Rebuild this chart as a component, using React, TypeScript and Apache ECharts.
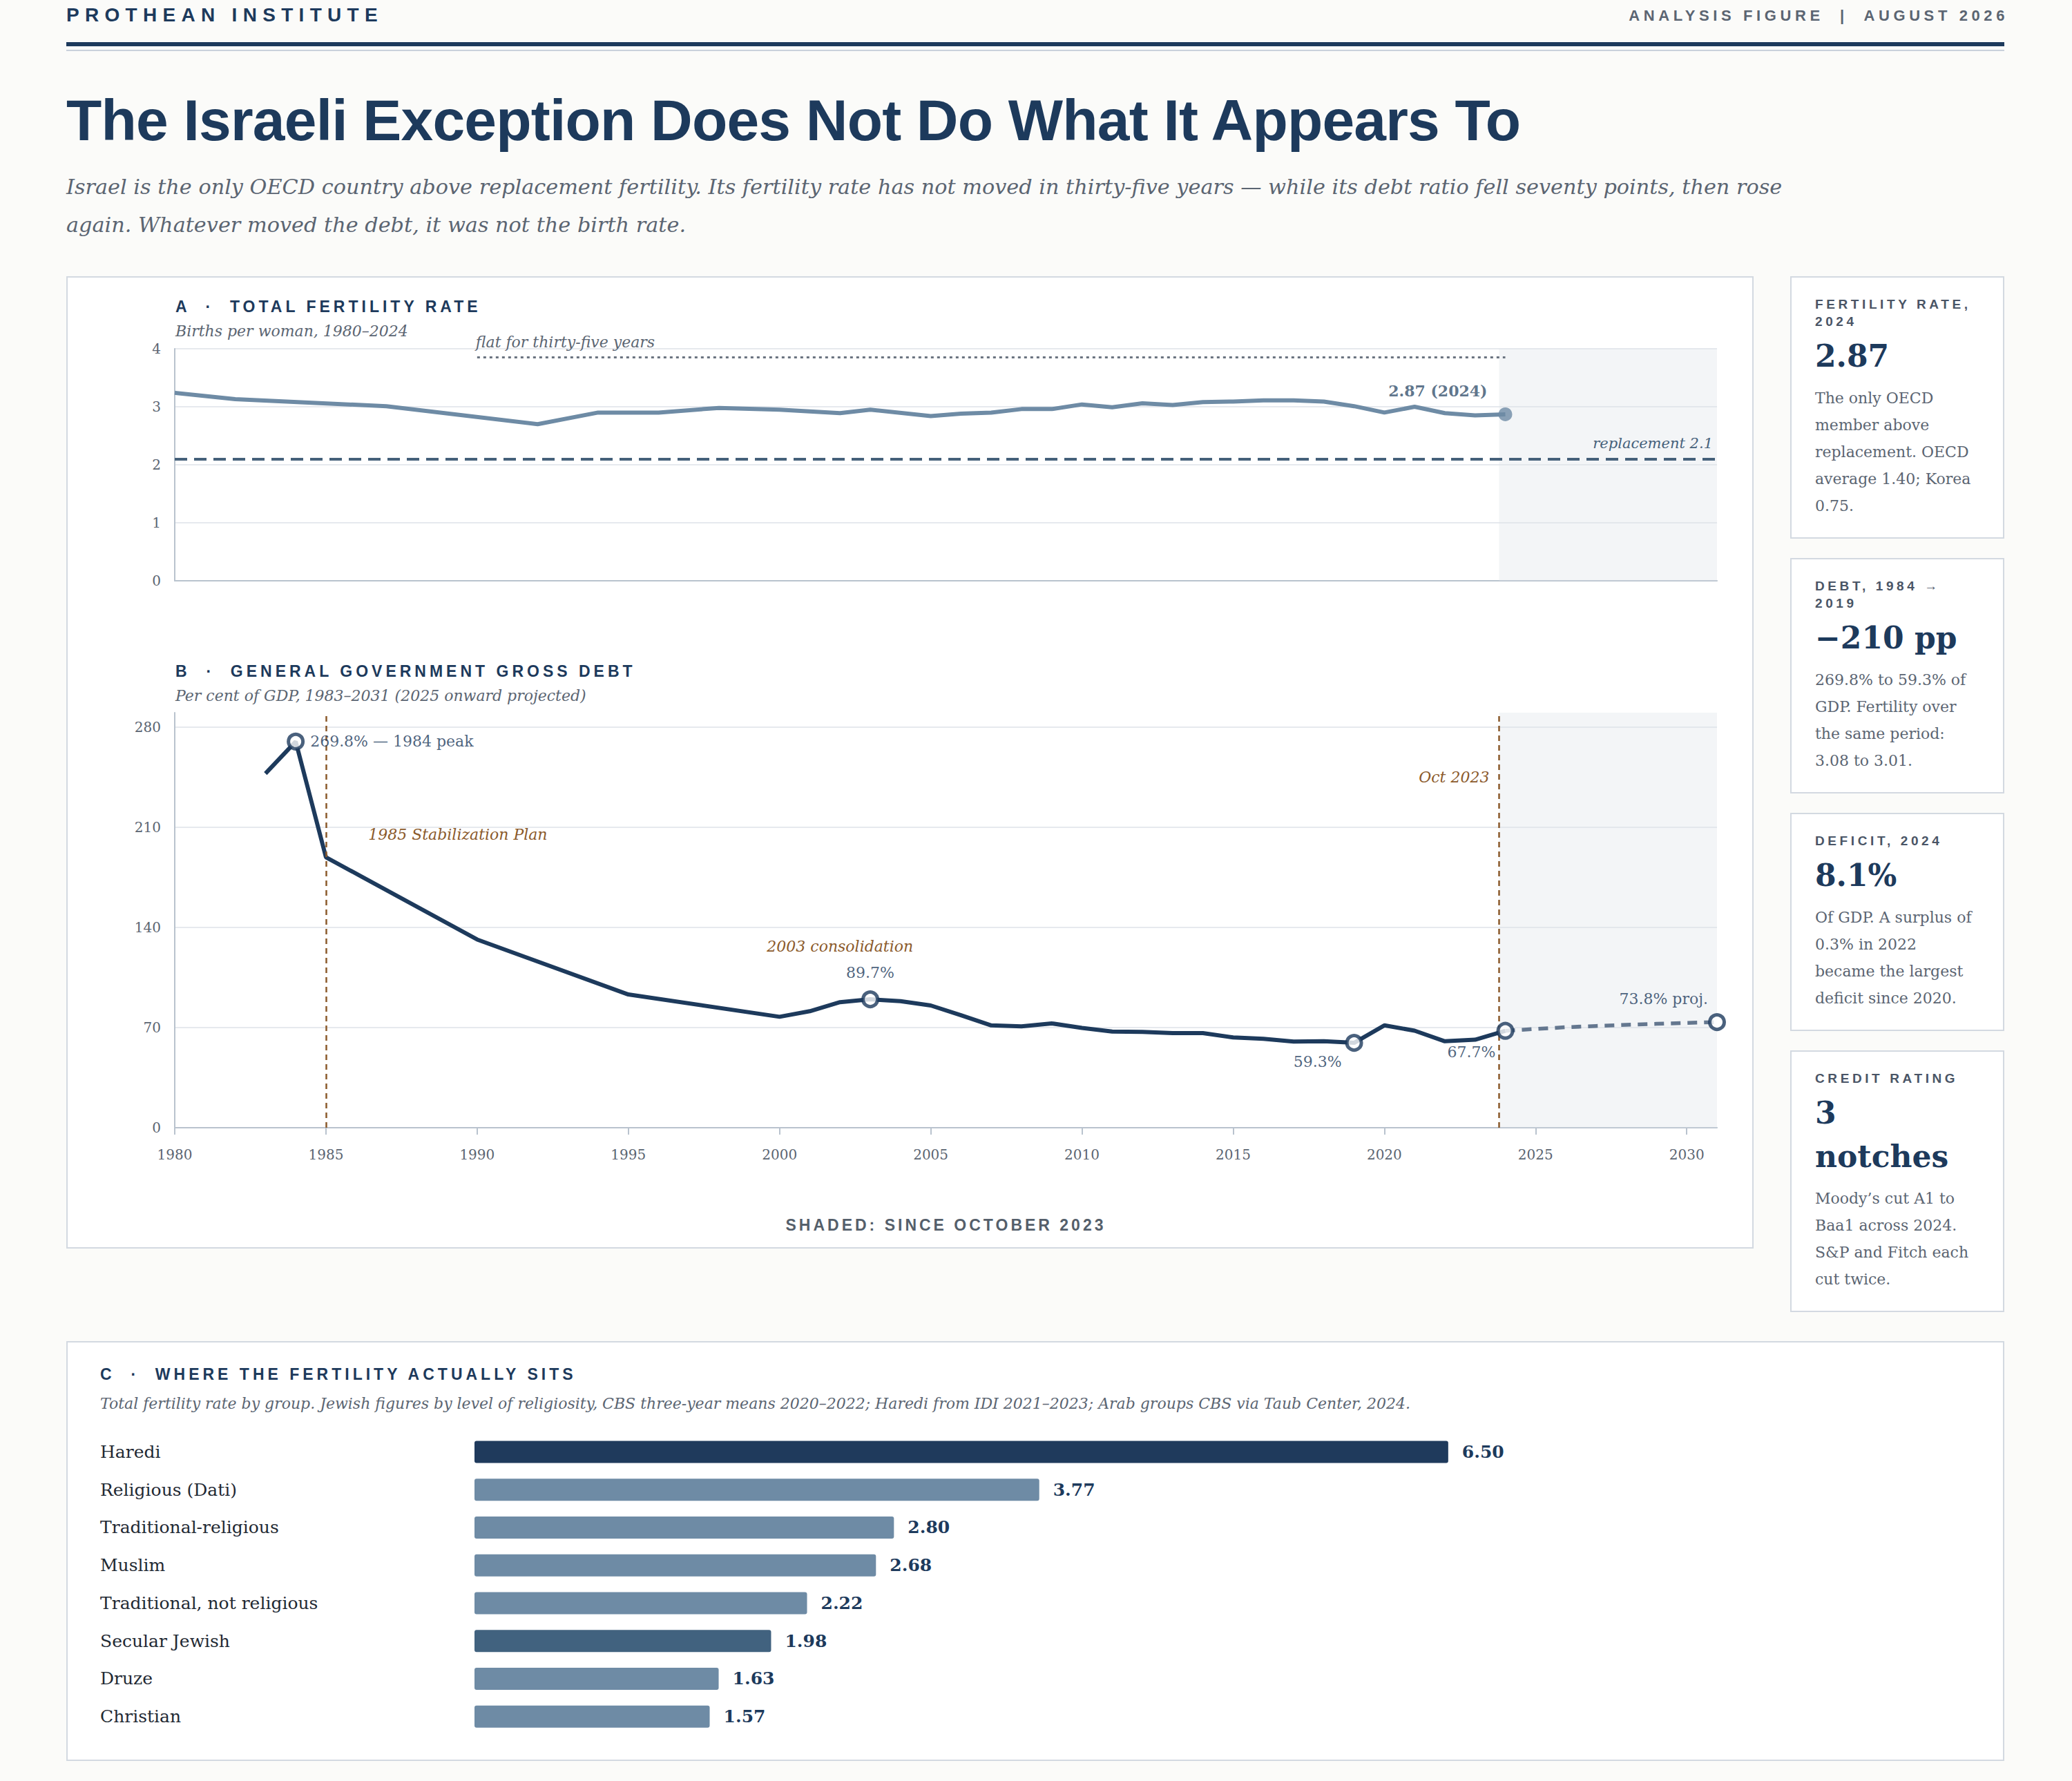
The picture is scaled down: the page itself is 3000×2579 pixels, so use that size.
import { useEffect, useRef } from "react";
import type { CSSProperties } from "react";
import * as echarts from "echarts";

const NAVY = "#1d3a5c";
const SLATE = "#6e8ba5";
const GREY = "#5b6572";
const BROWN = "#8b5a2b";
const AXIS = "#b9c3ce";
const GRID = "#e6e9ee";
const SHADE = "rgba(222,226,233,0.36)";
const SERIF = '"DejaVu Serif", serif';
const SANS = '"Liberation Sans", Arial, sans-serif';

// Panel A: total fertility rate (vertices)
const fertilityYears = [
  1980, 1982, 1987, 1992, 1994, 1996, 1998, 2000, 2002, 2003, 2005, 2006, 2007, 2008, 2009,
  2010, 2011, 2012, 2013, 2014, 2015, 2016, 2017, 2018, 2019, 2020, 2021, 2022, 2023, 2024,
];
const fertilityRates = [
  3.24, 3.13, 3.01, 2.7, 2.9, 2.9, 2.98, 2.95, 2.89, 2.95, 2.84, 2.88, 2.9, 2.96, 2.96,
  3.04, 2.99, 3.06, 3.03, 3.08, 3.09, 3.11, 3.11, 3.09, 3.01, 2.9, 3.0, 2.89, 2.85, 2.87,
];
const REPLACEMENT = 2.1;
const FLAT_FROM = 1990;
const FLAT_TO = 2024;
const FLAT_LEVEL = 3.86;

// Panel B: general government gross debt, % of GDP
const debtYears = [
  1983, 1984, 1985, 1990, 1995, 2000, 2001, 2002, 2003, 2004, 2005, 2006, 2007, 2008, 2009,
  2010, 2011, 2012, 2013, 2014, 2015, 2016, 2017, 2018, 2019, 2020, 2021, 2022, 2023, 2024,
];
const debtRatios = [
  247.5, 269.8, 189.0, 131.5, 93.1, 77.5, 81.4, 87.7, 89.7, 88.4, 85.4, 78.6, 71.5, 70.8, 72.9,
  69.7, 67.2, 67.0, 66.1, 66.1, 63.1, 62.1, 60.2, 60.4, 59.3, 71.5, 67.8, 60.4, 61.5, 67.7,
];
const projectionYears = [2024, 2025, 2026, 2027, 2028, 2029, 2030, 2031];
const projectionRatios = [67.7, 69.0, 70.2, 71.1, 71.9, 72.6, 73.2, 73.8];
const yearTicks = [1980, 1985, 1990, 1995, 2000, 2005, 2010, 2015, 2020, 2025, 2030];
const OCT_2023 = 2023 + 9.5 / 12;

// Panel C: fertility by group
const groups = [
  "Haredi",
  "Religious (Dati)",
  "Traditional-religious",
  "Muslim",
  "Traditional, not religious",
  "Secular Jewish",
  "Druze",
  "Christian",
];
const groupRates = [6.5, 3.77, 2.8, 2.68, 2.22, 1.98, 1.63, 1.57];

const cards = [
  {
    label: "Fertility rate, 2024",
    value: "2.87",
    note: ["The only OECD", "member above", "replacement. OECD", "average 1.40; Korea", "0.75."],
  },
  {
    label: "Debt, 1984 → 2019",
    value: "−210 pp",
    note: ["269.8% to 59.3% of", "GDP. Fertility over", "the same period:", "3.08 to 3.01."],
  },
  {
    label: "Deficit, 2024",
    value: "8.1%",
    note: ["Of GDP. A surplus of", "0.3% in 2022", "became the largest", "deficit since 2020."],
  },
  {
    label: "Credit rating",
    value: "3 notches",
    note: ["Moody’s cut A1 to", "Baa1 across 2024.", "S&P and Fitch each", "cut twice."],
  },
];

const debtAt = (year: number) =>
  year === 2031
    ? projectionRatios[projectionYears.indexOf(year)]
    : debtRatios[debtYears.indexOf(year)];

const debtCallouts = [
  { year: 1984, text: (v: number) => `${v.toFixed(1)}% — 1984 peak`, label: { position: "right", distance: 8 } },
  { year: 2003, text: (v: number) => `${v.toFixed(1)}%`, label: { position: "top", distance: 15 } },
  { year: 2019, text: (v: number) => `${v.toFixed(1)}%`, label: { position: "left", distance: 5, offset: [0, 27] } },
  { year: 2024, text: (v: number) => `${v.toFixed(1)}%`, label: { position: "left", distance: 1, offset: [0, 31] } },
  { year: 2031, text: (v: number) => `${v.toFixed(1)}% proj.`, label: { position: "left", distance: 0, offset: [0, -34] } },
];

const tickText = { fontFamily: SERIF, fontSize: 20, color: GREY };
const axisLine = { show: true, lineStyle: { color: AXIS, width: 2 } };
const shadeArea = {
  silent: true,
  itemStyle: { color: SHADE },
  data: [[{ xAxis: OCT_2023 }, { xAxis: 2031 }]],
};

const lastFertYear = fertilityYears[fertilityYears.length - 1];
const lastFertRate = fertilityRates[fertilityRates.length - 1];

const timeOption: any = {
  animation: false,
  grid: [
    { left: 155, right: 51, top: 103, height: 336 },
    { left: 155, right: 51, top: 630, height: 601 },
  ],
  xAxis: [
    {
      gridIndex: 0,
      type: "value",
      min: 1980,
      max: 2031,
      axisLine,
      axisTick: { show: false },
      axisLabel: { show: false },
      splitLine: { show: false },
    },
    {
      gridIndex: 1,
      type: "value",
      min: 1980,
      max: 2031,
      interval: 5,
      axisLine,
      axisTick: { show: true, length: 10, lineStyle: { color: AXIS, width: 2 }, customValues: yearTicks },
      axisLabel: {
        ...tickText,
        margin: 29,
        customValues: yearTicks,
        formatter: (v: number) => String(v),
      },
      splitLine: { show: false },
    },
  ],
  yAxis: [
    {
      gridIndex: 0,
      type: "value",
      min: 0,
      max: 4,
      interval: 1,
      axisLine,
      axisTick: { show: false },
      axisLabel: { ...tickText, margin: 20 },
      splitLine: { lineStyle: { color: GRID, width: 2 } },
    },
    {
      gridIndex: 1,
      type: "value",
      min: 0,
      max: 290,
      interval: 70,
      axisLine,
      axisTick: { show: false },
      axisLabel: { ...tickText, margin: 20, showMaxLabel: false },
      splitLine: { showMaxLine: false, lineStyle: { color: GRID, width: 2 } },
    },
  ],
  series: [
    {
      name: "Fertility",
      type: "line",
      xAxisIndex: 0,
      yAxisIndex: 0,
      showSymbol: false,
      clip: false,
      lineStyle: { color: SLATE, width: 6 },
      data: fertilityYears.map((y, i) => [y, fertilityRates[i]]),
      markArea: shadeArea,
      markLine: {
        silent: true,
        symbol: "none",
        data: [
          {
            yAxis: REPLACEMENT,
            lineStyle: { type: [18, 10], color: "#45607a", width: 4 },
            label: {
              position: "insideEndTop",
              distance: [6, 12],
              formatter: `replacement ${REPLACEMENT}`,
              fontFamily: SERIF,
              fontStyle: "italic",
              fontSize: 21,
              color: "#45607a",
            },
          },
          [
            {
              coord: [FLAT_FROM, FLAT_LEVEL],
              lineStyle: { type: [4, 5], color: "#6b7480", width: 3 },
              label: {
                position: "insideStartTop",
                distance: [-2, 10],
                formatter: "flat for thirty-five years",
                fontFamily: SERIF,
                fontStyle: "italic",
                fontSize: 22,
                color: GREY,
              },
            },
            { coord: [FLAT_TO, FLAT_LEVEL] },
          ],
        ],
      },
    },
    {
      name: "Fertility 2024",
      type: "scatter",
      xAxisIndex: 0,
      yAxisIndex: 0,
      clip: false,
      symbolSize: 20,
      itemStyle: { color: SLATE },
      z: 5,
      label: {
        show: true,
        position: "left",
        distance: 16,
        offset: [0, -34],
        formatter: `${lastFertRate.toFixed(2)} (${lastFertYear})`,
        fontFamily: SERIF,
        fontWeight: "bold",
        fontSize: 22,
        color: "#34506d",
      },
      data: [[lastFertYear, lastFertRate]],
    },
    {
      name: "Debt",
      type: "line",
      xAxisIndex: 1,
      yAxisIndex: 1,
      showSymbol: false,
      clip: false,
      lineStyle: { color: NAVY, width: 6 },
      data: debtYears.map((y, i) => [y, debtRatios[i]]),
      markArea: shadeArea,
      markLine: {
        silent: true,
        symbol: "none",
        label: { show: false },
        lineStyle: { type: [8, 6], color: BROWN, width: 2.5 },
        data: [{ xAxis: 1985 }, { xAxis: OCT_2023 }],
      },
      markPoint: {
        silent: true,
        symbol: "circle",
        symbolSize: 0,
        itemStyle: { color: "transparent" },
        label: { fontFamily: SERIF, fontStyle: "italic", fontSize: 22, color: BROWN },
        data: [
          { coord: [1986.4, 205], label: { position: "right", distance: 0, formatter: "1985 Stabilization Plan" } },
          { coord: [2002, 126.6], label: { position: "inside", formatter: "2003 consolidation" } },
          { coord: [OCT_2023, 245], label: { position: "left", distance: 14, formatter: "Oct 2023" } },
        ],
      },
    },
    {
      name: "Projection",
      type: "line",
      xAxisIndex: 1,
      yAxisIndex: 1,
      showSymbol: false,
      clip: false,
      lineStyle: { color: "#64778f", width: 5.5, type: [14, 10] },
      data: projectionYears.map((y, i) => [y, projectionRatios[i]]),
    },
    {
      name: "Debt callouts",
      type: "scatter",
      xAxisIndex: 1,
      yAxisIndex: 1,
      clip: false,
      symbolSize: 21,
      z: 5,
      itemStyle: { color: "#ffffff", borderColor: NAVY, borderWidth: 5 },
      label: { show: true, fontFamily: SERIF, fontSize: 22, color: NAVY },
      data: debtCallouts.map((c) => ({
        value: [c.year, debtAt(c.year)],
        label: { ...c.label, color: NAVY, formatter: c.text(debtAt(c.year)) },
      })),
    },
  ],
};

const barColor = (name: string) =>
  name === "Haredi" ? "#1f3a5c" : name === "Secular Jewish" ? "#41627f" : SLATE;

const groupOption: any = {
  animation: false,
  grid: { left: 589, right: 44, top: 131, height: 438 },
  xAxis: { type: "value", min: 0, max: 10, show: false },
  yAxis: {
    type: "category",
    data: groups,
    inverse: true,
    axisLine: { show: false },
    axisTick: { show: false },
    axisLabel: { align: "left", margin: 542, fontFamily: SERIF, fontSize: 25, color: "#1f2933" },
  },
  series: [
    {
      type: "bar",
      barWidth: 32,
      data: groupRates.map((v, i) => ({ value: v, itemStyle: { color: barColor(groups[i]) } })),
      itemStyle: { borderRadius: 3 },
      label: {
        show: true,
        position: "right",
        distance: 20,
        formatter: (p: any) => Number(p.value).toFixed(2),
        fontFamily: SERIF,
        fontWeight: "bold",
        fontSize: 25,
        color: NAVY,
      },
    },
  ],
};

function EChart({ option, style }: { option: any; style: CSSProperties }) {
  const ref = useRef<HTMLDivElement>(null);
  useEffect(() => {
    if (!ref.current) return;
    const chart = echarts.init(ref.current, undefined, { renderer: "svg" });
    chart.setOption(option);
    return () => chart.dispose();
  }, [option]);
  return <div ref={ref} style={style} />;
}

const panelTitle: CSSProperties = {
  position: "absolute",
  fontFamily: SANS,
  fontWeight: 700,
  fontSize: 23,
  lineHeight: "23px",
  letterSpacing: 5,
  color: NAVY,
  whiteSpace: "pre",
};
const panelNote: CSSProperties = {
  position: "absolute",
  fontFamily: SERIF,
  fontStyle: "italic",
  fontSize: 22,
  lineHeight: "24px",
  color: GREY,
  whiteSpace: "nowrap",
};
const box: CSSProperties = {
  position: "absolute",
  boxSizing: "border-box",
  background: "#ffffff",
  border: "2px solid #d3d9e1",
};

export default function App() {
  return (
    <div
      style={{
        position: "absolute",
        left: 0,
        top: 0,
        width: 3000,
        height: 2579,
        background: "#fbfbf9",
        overflow: "hidden",
      }}
    >
      {/* masthead */}
      <div
        style={{
          position: "absolute",
          left: 96,
          top: 8,
          fontFamily: SANS,
          fontWeight: 700,
          fontSize: 28,
          lineHeight: "28px",
          letterSpacing: 8.3,
          color: NAVY,
        }}
      >
        PROTHEAN INSTITUTE
      </div>
      <div
        style={{
          position: "absolute",
          right: 92,
          top: 12,
          fontFamily: SANS,
          fontWeight: 700,
          fontSize: 22,
          lineHeight: "22px",
          letterSpacing: 5.6,
          color: GREY,
          whiteSpace: "pre",
        }}
      >
        {"ANALYSIS FIGURE  |  AUGUST 2026"}
      </div>
      <div style={{ position: "absolute", left: 96, top: 61, width: 2806, height: 6, background: NAVY }} />
      <div style={{ position: "absolute", left: 96, top: 72, width: 2806, height: 2, background: "#c9d1db" }} />

      <div
        style={{
          position: "absolute",
          left: 96,
          top: 132,
          fontFamily: SANS,
          fontWeight: 700,
          fontSize: 84,
          lineHeight: "84px",
          letterSpacing: -0.8,
          color: NAVY,
          whiteSpace: "nowrap",
        }}
      >
        The Israeli Exception Does Not Do What It Appears To
      </div>
      <div
        style={{
          position: "absolute",
          left: 96,
          top: 243,
          fontFamily: SERIF,
          fontStyle: "italic",
          fontSize: 30.3,
          lineHeight: "55px",
          color: GREY,
          whiteSpace: "nowrap",
        }}
      >
        Israel is the only OECD country above replacement fertility. Its fertility rate has not moved in
        thirty-five years — while its debt ratio fell seventy points, then rose
        <br />
        again. Whatever moved the debt, it was not the birth rate.
      </div>

      {/* panels A + B */}
      <div style={{ ...box, left: 96, top: 400, width: 2443, height: 1408 }}>
        <EChart option={timeOption} style={{ position: "absolute", left: 0, top: 0, width: 2439, height: 1404 }} />
        <div style={{ ...panelTitle, left: 156, top: 31 }}>{"A  ·  TOTAL FERTILITY RATE"}</div>
        <div style={{ ...panelNote, left: 156, top: 66 }}>Births per woman, 1980–2024</div>
        <div style={{ ...panelTitle, left: 156, top: 559 }}>{"B  ·  GENERAL GOVERNMENT GROSS DEBT"}</div>
        <div style={{ ...panelNote, left: 156, top: 594 }}>Per cent of GDP, 1983–2031 (2025 onward projected)</div>
        <div
          style={{
            ...panelTitle,
            left: 155,
            width: 2233,
            top: 1361,
            textAlign: "center",
            color: "#555f6b",
            letterSpacing: 4,
          }}
        >
          SHADED: SINCE OCTOBER 2023
        </div>
      </div>

      {/* key numbers */}
      <div
        style={{
          position: "absolute",
          left: 2592,
          top: 400,
          width: 310,
          display: "flex",
          flexDirection: "column",
          gap: 28,
        }}
      >
        {cards.map((c) => (
          <div
            key={c.label}
            style={{
              boxSizing: "border-box",
              background: "#ffffff",
              border: "2px solid #d3d9e1",
              padding: "26px 42px 26px 34px",
            }}
          >
            <div
              style={{
                fontFamily: SANS,
                fontWeight: 700,
                fontSize: 19,
                lineHeight: "25px",
                letterSpacing: 4.6,
                color: "#4a5566",
                textTransform: "uppercase",
              }}
            >
              {c.label}
            </div>
            <div
              style={{
                marginTop: 6,
                fontFamily: SERIF,
                fontWeight: 700,
                fontSize: 44,
                lineHeight: "63px",
                color: NAVY,
              }}
            >
              {c.value}
            </div>
            <div
              style={{
                marginTop: 10,
                fontFamily: SERIF,
                fontSize: 22,
                lineHeight: "39px",
                color: GREY,
                whiteSpace: "nowrap",
              }}
            >
              {c.note.map((line) => (
                <div key={line}>{line}</div>
              ))}
            </div>
          </div>
        ))}
      </div>

      {/* panel C */}
      <div style={{ ...box, left: 96, top: 1942, width: 2806, height: 608 }}>
        <EChart option={groupOption} style={{ position: "absolute", left: 0, top: 0, width: 2802, height: 604 }} />
        <div style={{ ...panelTitle, left: 47, top: 35 }}>{"C  ·  WHERE THE FERTILITY ACTUALLY SITS"}</div>
        <div style={{ ...panelNote, left: 47, top: 77 }}>
          Total fertility rate by group. Jewish figures by level of religiosity, CBS three-year means 2020–2022;
          Haredi from IDI 2021–2023; Arab groups CBS via Taub Center, 2024.
        </div>
      </div>
    </div>
  );
}
